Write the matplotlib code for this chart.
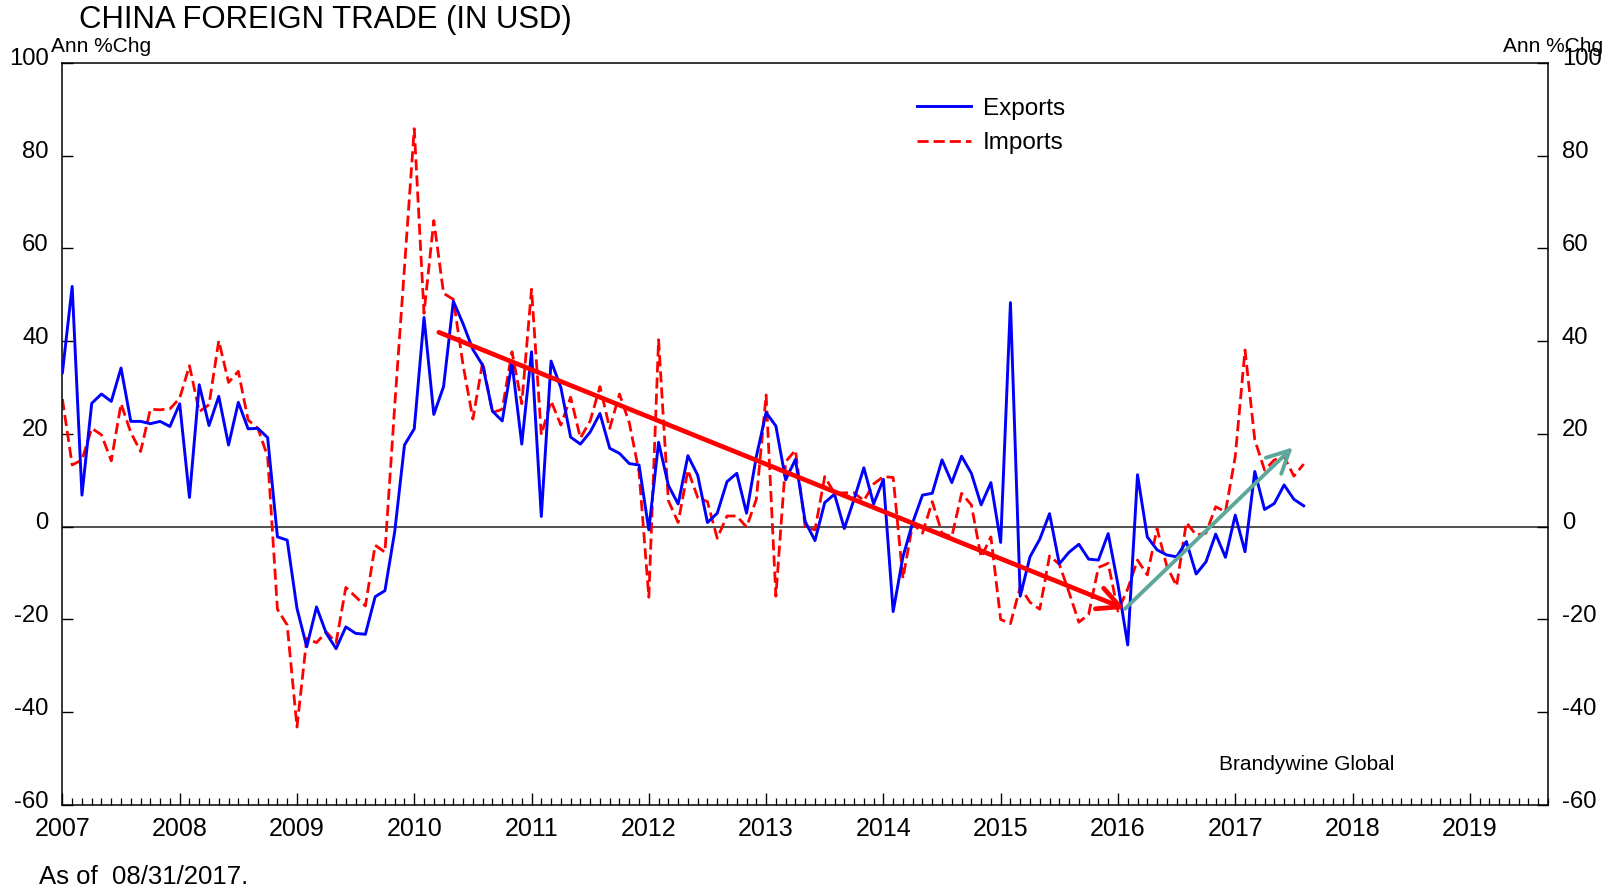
import numpy as np
import matplotlib
matplotlib.use('Agg')
import matplotlib.pyplot as plt
from matplotlib import font_manager as fm
from matplotlib.ticker import MultipleLocator, FixedLocator, NullLocator
from matplotlib.transforms import ScaledTranslation

# ---------------- data (monthly, Jan 2007 .. Aug 2017, % y/y) ----------------
start_year = 2007
exports = [
    33.2, 51.8, 6.8, 26.6, 28.6, 27.0, 34.2, 22.7, 22.7, 22.2, 22.7, 21.6,      # 2007
    26.5, 6.3, 30.6, 21.8, 28.1, 17.6, 26.8, 21.1, 21.2, 19.2, -2.2, -2.9,      # 2008
    -17.6, -25.9, -17.3, -23.0, -26.3, -21.6, -23.0, -23.2, -15.1, -13.8, -1.1, 17.6,  # 2009
    21.1, 45.1, 24.2, 30.2, 48.6, 43.7, 38.2, 34.8, 24.9, 22.8, 35.3, 17.8,     # 2010
    37.7, 2.2, 35.7, 30.0, 19.3, 17.8, 20.4, 24.4, 16.9, 15.8, 13.6, 13.3,      # 2011
    -0.7, 18.2, 8.9, 4.9, 15.3, 11.1, 0.9, 2.9, 9.7, 11.5, 2.9, 15.1,           # 2012
    24.6, 21.7, 10.1, 14.5, 1.1, -3.0, 5.2, 7.0, -0.4, 5.9, 12.7, 4.9,          # 2013
    10.2, -18.3, -6.5, 0.9, 6.8, 7.2, 14.4, 9.5, 15.2, 11.5, 4.7, 9.5,          # 2014
    -3.4, 48.3, -15.0, -6.5, -2.7, 2.8, -8.0, -5.5, -3.8, -7.0, -7.2, -1.5,     # 2015
    -12.5, -25.5, 11.2, -2.2, -5.0, -6.1, -6.5, -3.2, -10.2, -7.6, -1.6, -6.6,  # 2016
    2.5, -5.4, 11.9, 3.7, 5.0, 9.0, 5.9, 4.5,                                   # 2017
]
imports = [
    27.5, 13.3, 14.4, 21.2, 19.8, 14.2, 26.5, 20.3, 16.2, 25.3, 25.2, 25.4,     # 2007
    27.7, 34.7, 24.8, 26.3, 40.1, 31.1, 33.5, 23.0, 21.2, 15.1, -17.8, -21.2,   # 2008
    -43.2, -24.1, -25.0, -22.7, -25.0, -13.1, -15.1, -17.1, -4.0, -5.5, 26.0, 56.0,  # 2009
    85.8, 46.0, 66.0, 50.3, 49.0, 34.8, 23.2, 35.5, 24.6, 25.3, 37.7, 26.5,     # 2010
    51.2, 19.8, 27.1, 21.9, 27.9, 19.1, 22.8, 30.2, 21.2, 28.6, 22.4, 11.8,     # 2011
    -15.2, 40.3, 5.6, 0.9, 12.2, 6.3, 5.4, -2.5, 2.3, 2.3, -0.1, 5.9,           # 2012
    28.4, -15.0, 14.0, 16.5, 0.0, -0.7, 10.8, 7.2, 7.3, 7.3, 5.6, 9.2,          # 2013
    10.8, 10.6, -11.2, 0.7, -1.4, 5.4, -1.4, -2.2, 7.2, 4.7, -6.6, -2.2,        # 2014
    -20.0, -20.9, -13.0, -16.3, -17.8, -6.3, -8.1, -14.2, -20.6, -18.9, -8.8, -7.9,  # 2015
    -18.2, -13.4, -7.2, -10.4, -0.4, -8.5, -12.8, 0.9, -1.8, -1.4, 4.3, 3.2,    # 2016
    15.1, 38.1, 18.7, 12.2, 14.4, 15.1, 10.9, 13.5,                             # 2017
]
year_ticks = list(range(2007, 2020))
y_ticks = [-60, -40, -20, 0, 20, 40, 60, 80, 100]
series_labels = ['Exports', 'Imports']
down_trend = [(2010.21, 41.9), (2016.06, -17.7)]
up_trend = [(2016.06, -17.7), (2017.49, 17.1)]

# ---------------- fonts ----------------
names = {f.name for f in fm.fontManager.ttflist}
REG = 'Liberation Sans' if 'Liberation Sans' in names else 'DejaVu Sans'
NAR = 'Liberation Sans Narrow' if 'Liberation Sans Narrow' in names else REG
k = 1.0 if NAR != REG else 0.82

W, H = 1606, 890
fig = plt.figure(figsize=(W / 100, H / 100), dpi=100)
L, R, T, B = 62.4, 1548.0, 62.8, 805.0
ax = fig.add_axes([L / W, 1 - B / H, (R - L) / W, (B - T) / H])

x = start_year + np.arange(len(exports)) / 12.0
ax.axhline(0, color='#333333', lw=1.2, zorder=1)
ax.plot(x, exports, color='#0000FF', lw=2.1, label=series_labels[0], zorder=3)
ax.plot(x[:len(imports)], imports, color='#FF0000', lw=2.0, ls=(0, (4.0, 1.8)),
        label=series_labels[1], zorder=2)

ax.set_xlim(2007, 2019 + 8 / 12)
ax.set_ylim(-60, 100)

for s in ax.spines.values():
    s.set_linewidth(1.1)
    s.set_color('black')

ax.yaxis.set_major_locator(FixedLocator(y_ticks))
ax.yaxis.set_minor_locator(NullLocator())
ax.set_yticklabels([str(v) for v in y_ticks])
ax.tick_params(axis='y', which='major', direction='in', length=8, width=1,
               left=True, right=True, labelleft=True, labelright=True,
               pad=10, labelsize=21 * k, labelfontfamily=NAR)

ax.xaxis.set_major_locator(FixedLocator(year_ticks))
ax.xaxis.set_minor_locator(MultipleLocator(1 / 12))
ax.set_xticklabels([str(v) for v in year_ticks])
ax.tick_params(axis='x', which='major', direction='in', length=9, width=1,
               top=False, pad=9, labelsize=22 * k, labelfontfamily=NAR)
ax.tick_params(axis='x', which='minor', direction='in', length=5, width=0.9, top=False)

# shift y tick labels slightly upward, as in the reference
off = ScaledTranslation(0, 0.06, fig.dpi_scale_trans)
for t in ax.yaxis.get_major_ticks():
    t.label1.set_transform(t.label1.get_transform() + off)
    t.label2.set_transform(t.label2.get_transform() + off)

# trend arrows
ax.annotate('', xy=down_trend[1], xytext=down_trend[0],
            arrowprops=dict(arrowstyle='->,head_length=0.8,head_width=0.4',
                            color='#FF0000', lw=3.4, mutation_scale=20,
                            shrinkA=0, shrinkB=0), zorder=5)
ax.annotate('', xy=up_trend[1], xytext=up_trend[0],
            arrowprops=dict(arrowstyle='->,head_length=0.8,head_width=0.4',
                            color='#5DA89A', lw=2.8, mutation_scale=20,
                            shrinkA=0, shrinkB=0), zorder=5)

leg = ax.legend(loc='center', bbox_to_anchor=(991 / W, 1 - 126 / H),
                bbox_transform=fig.transFigure, frameon=False,
                prop={'family': REG, 'size': 17.5}, handlelength=2.2,
                handletextpad=0.5, labelspacing=0.53, borderpad=0)

fig.text(79 / W, 1 - 28 / H, 'CHINA FOREIGN TRADE (IN USD)', fontsize=27.3 * k,
         family=NAR, ha='left', va='baseline')
fig.text(51 / W, 1 - 51.5 / H, 'Ann %Chg', fontsize=15, family=REG,
         ha='left', va='baseline')
fig.text(1603 / W, 1 - 51.5 / H, 'Ann %Chg', fontsize=15, family=REG,
         ha='right', va='baseline')
fig.text(39 / W, 1 - 884 / H, 'As of  08/31/2017.', fontsize=22.6 * k,
         family=NAR, ha='left', va='baseline')
fig.text(1219 / W, 1 - 770 / H, 'Brandywine Global', fontsize=15, family=REG,
         ha='left', va='baseline')

fig.savefig('out.png', dpi=100)
